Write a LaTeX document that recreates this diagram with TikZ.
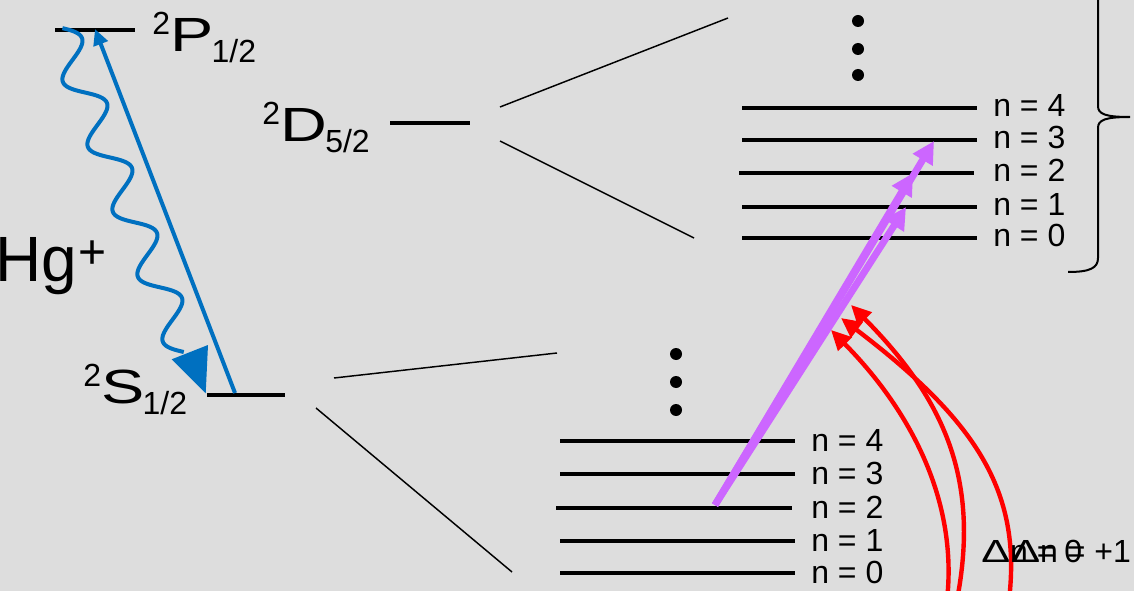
\documentclass[tikz,border=0pt]{standalone}
\usepackage{fontspec}
\setmainfont{Liberation Sans}
\usetikzlibrary{arrows.meta}
\definecolor{bg}{RGB}{221,221,221}
\definecolor{ionblue}{RGB}{0,112,192}
\definecolor{pumpviolet}{RGB}{204,102,255}
\definecolor{sbred}{RGB}{255,0,0}
\newcommand\sz[1]{\fontsize{#1}{#1}\selectfont}
% term symbol: superscript multiplicity, letter, subscript J
\newcommand\term[3]{\raisebox{12.75pt}{\sz{24}#1}\kern0.3pt\scalebox{1.35}[1]{\sz{36}#2}\kern-1.5pt\raisebox{-8.25pt}{\sz{24}#3}}
\newcommand\dn{\scalebox{1.35}[1]{Δ}n}
\begin{document}
\begin{tikzpicture}[x=0.75pt,y=-0.75pt,
  level/.style={line width=2.6pt},
  rung/.style={line width=2.4pt},
  thin/.style={line width=1.1pt},
  lbl/.style={inner sep=0pt, anchor=base west, font=\sz{24}},
  termlbl/.style={inner sep=0pt, anchor=base west},
  photon/.style={ionblue, line width=3pt},
  pump/.style={pumpviolet, line width=5.2pt, -{Triangle[length=16.5pt,width=16.5pt]}},
  sideband/.style={sbred, line width=3.3pt, -{Triangle[length=15pt,width=14pt]}},
  dot/.style={circle, fill=black, inner sep=0pt, minimum size=9pt}]
\useasboundingbox (0,0) rectangle (1134,591);
\fill[bg] (0,0) rectangle (1134,591);
\begin{scope}
\clip (0,0) rectangle (1134,591);

% ---- fine-structure levels ----
\coordinate (PL) at (55,30);   \coordinate (PR) at (135,30);
\coordinate (SL) at (207,395); \coordinate (SR) at (285,395);
\coordinate (DL) at (390,123); \coordinate (DR) at (470,123);
\draw[level] (PL) -- (PR);
\draw[level] (SL) -- (SR);
\draw[level] (DL) -- (DR);

\node[termlbl] (Plbl) at (152,52) {\term{2}{P}{1/2}};
\node[termlbl] (Dlbl) at (262,142) {\term{2}{D}{5/2}};
\node[termlbl] (Slbl) at (83,403) {\term{2}{S}{1/2}};
\node[inner sep=0pt, anchor=base west] (ion) at (-5,282)
  {\sz{48}Hg\kern1pt\raisebox{10pt}{\sz{36}+}};

% ---- excitation (straight) and spontaneous decay (wavy) ----
\coordinate (Sexc) at (235,393);
\coordinate (Ptip) at (95,29);
\draw[photon, -{Triangle[length=12pt,width=11pt]}] (Sexc) -- (Ptip);
\draw[photon] plot[domain=-16:330, samples=260, smooth]
  ({66.2+0.359*\x+15.79*cos(5.172*\x)}, {43.8+0.933*\x-5.76*cos(5.172*\x)});
\coordinate (hA) at (171.7,359.3);
\coordinate (hB) at (208,345);
\coordinate (hT) at (205.7,393.3);
\fill[ionblue] (hA) -- (hB) -- (hT) -- cycle;

% ---- fan-out lines to the motional ladders ----
\coordinate (Dfu) at (500,107); \coordinate (Dtu) at (728,18);
\coordinate (Dfl) at (500,141); \coordinate (Dtl) at (694,238);
\coordinate (Sfu) at (334,378); \coordinate (Stu) at (557,353);
\coordinate (Sfl) at (316,408); \coordinate (Stl) at (512,572);
\draw[thin] (Dfu) -- (Dtu);
\draw[thin] (Dfl) -- (Dtl);
\draw[thin] (Sfu) -- (Stu);
\draw[thin] (Sfl) -- (Stl);

% ---- upper ladder (D5/2) ----
\foreach \n/\yy/\xa/\xb in {4/108/742/977, 3/140/742/977, 2/173/739/974, 1/207/742/977, 0/238/742/977}{
  \coordinate (u\n a) at (\xa,\yy);
  \coordinate (u\n b) at (\xb,\yy);
  \draw[rung] (u\n a) -- (u\n b);
  \node[lbl] (ulbl\n) at (993,\yy+9) {n = \n};
}
\node[dot] (ud1) at (858,21) {};
\node[dot] (ud2) at (858,49) {};
\node[dot] (ud3) at (858,75) {};

% ---- lower ladder (S1/2) ----
\foreach \n/\yy/\xa/\xb in {4/441/560/795, 3/474/560/795, 2/508/556/792, 1/541/560/795, 0/573/560/795}{
  \coordinate (l\n a) at (\xa,\yy);
  \coordinate (l\n b) at (\xb,\yy);
  \draw[rung] (l\n a) -- (l\n b);
  \node[lbl] (llbl\n) at (811,\yy+10) {n = \n};
}
\node[dot] (ld1) at (676,354) {};
\node[dot] (ld2) at (676,382) {};
\node[dot] (ld3) at (676,410) {};

% ---- brace grouping the upper ladder ----
\coordinate (bb) at (1068,272);
\coordinate (bt) at (1068,-38);
\coordinate (btip) at (1130,117);
\draw[line width=1.5pt] (bb) .. controls (1090,272) and (1098,268) .. (1098,258)
  -- (1098,128) .. controls (1098,120) and (1105,117) .. (btip)
  .. controls (1105,117) and (1098,114) .. (1098,106)
  -- (1098,-24) .. controls (1098,-34) and (1090,-38) .. (bt);

% ---- carrier and sideband drives ----
\coordinate (pst) at (715,505);
\coordinate (pt3) at (934,141);
\coordinate (pt2) at (913,173);
\coordinate (pt1) at (906,207);
\draw[pump] (pst) -- (pt1);
\draw[pump] (pst) -- (pt2);
\draw[pump] (pst) -- (pt3);

\coordinate (r1s) at (947,600);  \coordinate (r1t) at (831,330);
\coordinate (r2s) at (957,600);  \coordinate (r2t) at (851,305);
\coordinate (r3s) at (1009,600); \coordinate (r3t) at (841,318);
\draw[sideband] (r1s) .. controls (958,500) and (910,410) .. (r1t);
\draw[sideband] (r2s) .. controls (980,480) and (945,400) .. (r2t);
\draw[sideband] (r3s) .. controls (1022,490) and (975,420) .. (r3t);

\node[lbl] (dn0) at (981,562) {\dn{} = 0};
\node[lbl] (dn1) at (1011,562) {\dn{} = +1};
\end{scope}
\end{tikzpicture}
\end{document}
